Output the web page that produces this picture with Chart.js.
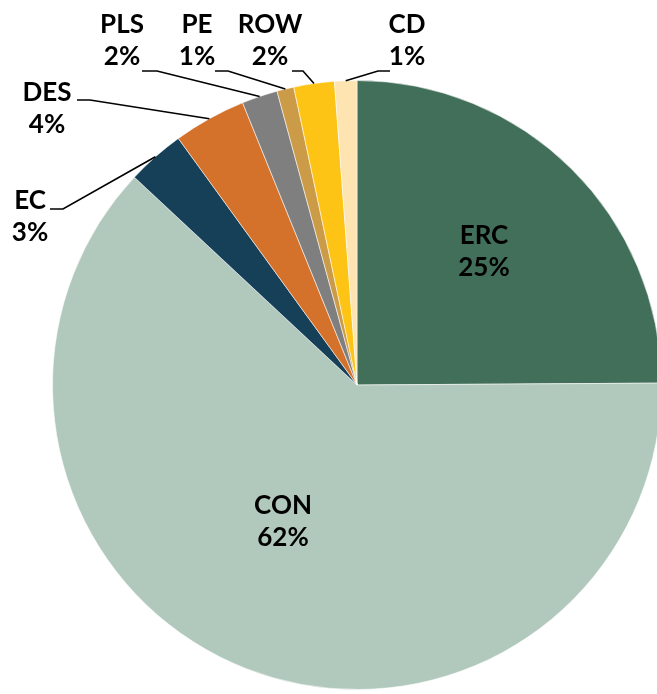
<!DOCTYPE html>
<html>
<head>
<meta charset="utf-8">
<script src="https://cdn.jsdelivr.net/npm/chart.js@4/dist/chart.umd.min.js"></script>
<style>
  html, body { margin: 0; padding: 0; background: #fff; overflow: hidden; }
  #wrap { position: absolute; left: 0; top: 0; width: 714px; height: 694px; }
</style>
</head>
<body>
<div id="wrap"><canvas id="pie" width="714" height="694"></canvas></div>
<script>
const categories = ['ERC', 'CON', 'EC', 'DES', 'PLS', 'PE', 'ROW', 'CD'];
const shares = [24.9, 62.05, 3.07, 3.85, 1.9, 0.9, 2.15, 1.18];
const shareLabels = ['25%', '62%', '3%', '4%', '2%', '1%', '2%', '1%'];
const colors = ['#426f5a', '#b1c9bd', '#164058', '#d4712b', '#7f7f7f', '#cc9b47', '#fdc315', '#fde4b0'];

// label centres, offset from the pie centre
const labelOffsets = [
  [127, -133], [-74, 137], [-327, -168], [-310, -276],
  [-235, -344], [-160, -344], [-87, -344], [50, -344]
];
// leader lines: [horizontal end near label, elbow] offset from centre, null = inside label
const leaders = [
  null, null,
  [[-307, -176], [-294, -176]],
  [[-280, -285], [-267, -285]],
  [[-215, -314], [-200, -314]],
  [[-142, -314], [-129, -314]],
  [[-65, -314], [-54, -314]],
  [[33, -314], [21, -314]]
];

const labelPlugin = {
  id: 'pieLabels',
  afterDatasetsDraw(chart) {
    const ctx = chart.ctx;
    const arcs = chart.getDatasetMeta(0).data;
    ctx.save();
    arcs.forEach((arc, i) => {
      const cx = arc.x, cy = arc.y;
      const mid = (arc.startAngle + arc.endAngle) / 2;
      const r = arc.outerRadius;
      if (leaders[i]) {
        const [h, e] = leaders[i];
        ctx.beginPath();
        ctx.moveTo(cx + r * Math.cos(mid), cy + r * Math.sin(mid));
        ctx.lineTo(cx + e[0], cy + e[1]);
        ctx.lineTo(cx + h[0], cy + h[1]);
        ctx.strokeStyle = '#000';
        ctx.lineWidth = 1.6;
        ctx.stroke();
      }
      const [ox, oy] = labelOffsets[i];
      ctx.fillStyle = '#000';
      ctx.textAlign = 'center';
      ctx.textBaseline = 'middle';
      ctx.font = 'bold 26px Lato';
      ctx.fillText(categories[i], cx + ox, cy + oy - 16);
      ctx.fillText(shareLabels[i], cx + ox, cy + oy + 16);
    });
    ctx.restore();
  }
};

new Chart(document.getElementById('pie').getContext('2d'), {
  type: 'pie',
  data: {
    labels: categories,
    datasets: [{
      data: shares,
      backgroundColor: colors,
      borderColor: 'rgba(255, 255, 255, 0.55)',
      borderWidth: 1
    }]
  },
  options: {
    responsive: false,
    animation: false,
    layout: { padding: { top: 80, bottom: 4, left: 52, right: 52 } },
    plugins: {
      legend: { display: false },
      tooltip: { enabled: false }
    }
  },
  plugins: [labelPlugin]
});
</script>
</body>
</html>
